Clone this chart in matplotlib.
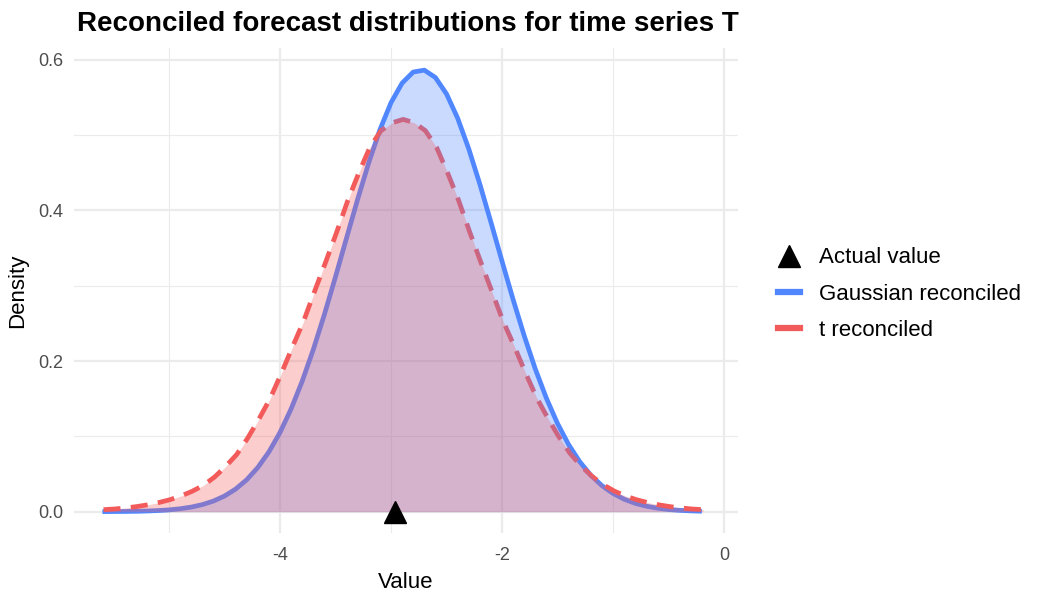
import matplotlib
matplotlib.use("Agg")
import matplotlib.pyplot as plt
from matplotlib.lines import Line2D

plt.rcParams['font.family'] = ['Liberation Sans', 'DejaVu Sans']
plt.rcParams['axes.unicode_minus'] = False

# gaussian reconciled density
x_gauss = [-5.6, -5.5, -5.4, -5.3, -5.2, -5.1, -5.0, -4.9, -4.8, -4.7,
           -4.6, -4.5, -4.4, -4.3, -4.2, -4.1, -4.0, -3.9, -3.8, -3.7,
           -3.6, -3.5, -3.4, -3.3, -3.2, -3.1, -3.0, -2.9, -2.8, -2.7,
           -2.6, -2.5, -2.4, -2.3, -2.2, -2.1, -2.0, -1.9, -1.8, -1.7,
           -1.6, -1.5, -1.4, -1.3, -1.2, -1.1, -1.0, -0.9, -0.8, -0.7,
           -0.6, -0.5, -0.4, -0.3, -0.2]
y_gauss = [0.0001, 0.0002, 0.0003, 0.0005, 0.0009, 0.0015, 0.0024, 0.0039, 0.0061, 0.0094,
           0.0141, 0.0208, 0.0300, 0.0424, 0.0587, 0.0794, 0.1052, 0.1365, 0.1733, 0.2154,
           0.2620, 0.3120, 0.3638, 0.4152, 0.4638, 0.5073, 0.5432, 0.5692, 0.5839, 0.5864,
           0.5766, 0.5548, 0.5227, 0.4820, 0.4351, 0.3845, 0.3327, 0.2817, 0.2336, 0.1895,
           0.1506, 0.1171, 0.0891, 0.0664, 0.0484, 0.0346, 0.0242, 0.0166, 0.0111, 0.0073,
           0.0047, 0.0029, 0.0018, 0.0011, 0.0006]

# t reconciled density
x_t = [-5.59, -5.49, -5.39, -5.29, -5.19, -5.09, -4.99, -4.89, -4.79, -4.69,
       -4.59, -4.49, -4.39, -4.29, -4.19, -4.09, -3.99, -3.89, -3.79, -3.69,
       -3.59, -3.49, -3.39, -3.29, -3.19, -3.09, -2.99, -2.89, -2.79, -2.69,
       -2.59, -2.49, -2.39, -2.29, -2.19, -2.09, -1.99, -1.89, -1.79, -1.69,
       -1.59, -1.49, -1.39, -1.29, -1.19, -1.09, -0.99, -0.89, -0.79, -0.69,
       -0.59, -0.49, -0.39, -0.29, -0.19]
y_t = [0.0027, 0.0036, 0.0050, 0.0068, 0.0092, 0.0122, 0.0160, 0.0210, 0.0272, 0.0350,
       0.0460, 0.0600, 0.0760, 0.0980, 0.1230, 0.1500, 0.1830, 0.2180, 0.2520, 0.2920,
       0.3310, 0.3710, 0.4130, 0.4500, 0.4840, 0.5060, 0.5165, 0.5210, 0.5165, 0.5060,
       0.4840, 0.4500, 0.4130, 0.3710, 0.3310, 0.2920, 0.2530, 0.2200, 0.1850, 0.1520,
       0.1250, 0.1000, 0.0780, 0.0610, 0.0470, 0.0360, 0.0275, 0.0210, 0.0160, 0.0122,
       0.0092, 0.0068, 0.0050, 0.0036, 0.0027]

actual_value = -2.965

blue = '#5087FF'
red = '#F35B5B'

fig = plt.figure(figsize=(10.5, 6), dpi=100)
ax = fig.add_axes([74/1050, 67/600, 664/1050, 485/600])

# lines first, fills on top (like the original)
ax.plot(x_gauss, y_gauss, color=blue, lw=3.4, solid_capstyle='butt',
        solid_joinstyle='round', zorder=3)
ax.plot(x_t, y_t, color=red, lw=3.4, dashes=(3.6, 2.2), dash_capstyle='butt',
        dash_joinstyle='round', zorder=3)
ax.fill_between(x_gauss, 0, y_gauss, color=blue, alpha=0.3, lw=0, zorder=4)
ax.fill_between(x_t, 0, y_t, color=red, alpha=0.3, lw=0, zorder=5)
ax.plot([actual_value], [0], marker='^', color='black', ms=16, ls='none', zorder=6)

ax.set_xlim(-5.856, 0.126)
ax.set_ylim(-0.0283, 0.6158)
ax.set_xticks([-4, -2, 0])
ax.set_xticks([-5, -3, -1], minor=True)
ax.set_yticks([0, 0.2, 0.4, 0.6])
ax.set_yticklabels(['0.0', '0.2', '0.4', '0.6'])
ax.set_yticks([0.1, 0.3, 0.5], minor=True)
ax.grid(which='major', color='#EBEBEB', lw=1.6, zorder=0)
ax.grid(which='minor', color='#EBEBEB', lw=0.8, zorder=0)
ax.set_axisbelow(True)
for s in ax.spines.values():
    s.set_visible(False)
ax.tick_params(which='both', length=0, labelsize=13, labelcolor='#4D4D4D')
ax.tick_params(axis='x', pad=10)
ax.tick_params(axis='y', pad=8)

ax.set_xlabel('Value', fontsize=16, labelpad=6)
ax.set_ylabel('Density', fontsize=16, labelpad=7)
fig.text(77/1050, 1 - 24/600, 'Reconciled forecast distributions for time series T',
         fontsize=20, fontweight='bold', ha='left', va='center')

handles = [Line2D([], [], marker='^', color='black', ms=16, ls='none'),
           Line2D([], [], color=blue, lw=4.5),
           Line2D([], [], color=red, lw=4.5)]
labels = ['Actual value', 'Gaussian reconciled', 't reconciled']
fig.legend(handles, labels, loc='center left', bbox_to_anchor=(778/1050, 1 - 294/600),
           frameon=False, fontsize=16, handlelength=1.0, handletextpad=0.85,
           labelspacing=0.68, borderpad=0, borderaxespad=0)

plt.savefig('out.png', dpi=100)
